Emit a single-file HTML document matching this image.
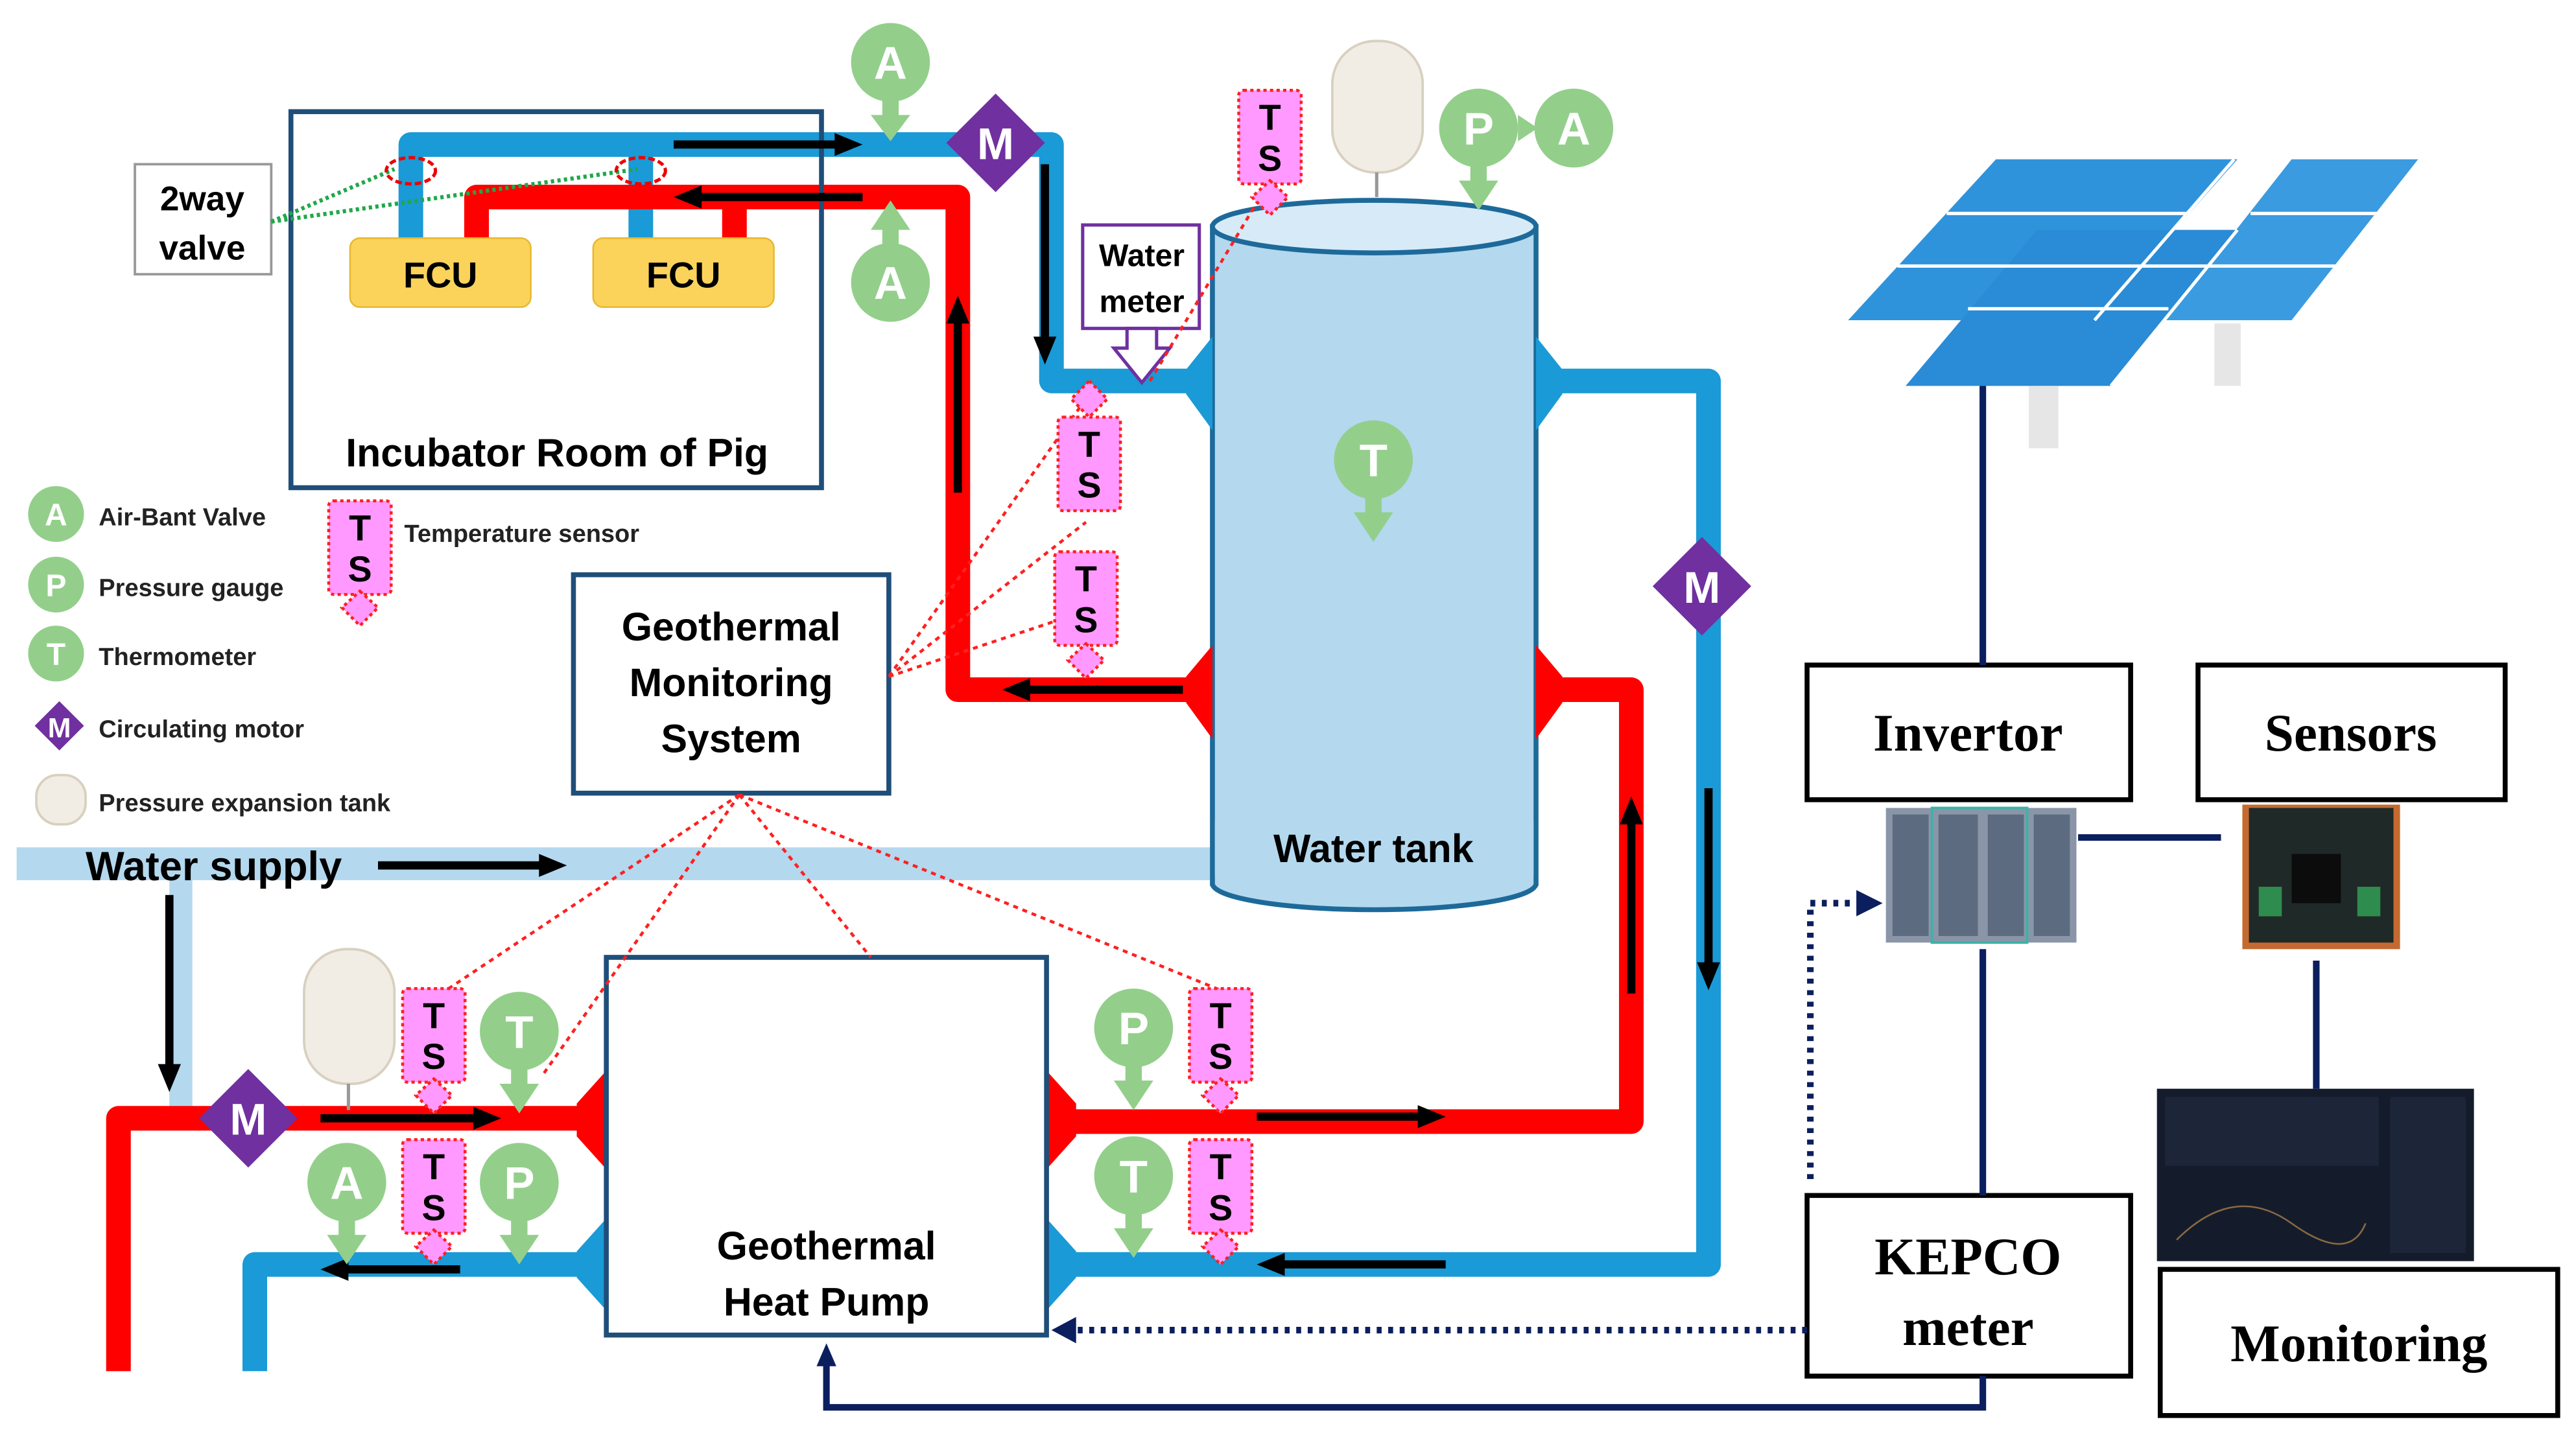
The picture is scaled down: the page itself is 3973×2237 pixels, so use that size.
<!DOCTYPE html>
<html><head><meta charset="utf-8"><style>
html,body{margin:0;padding:0;background:#fff}
svg{display:block}
.s{font-family:"Liberation Sans",sans-serif;font-weight:bold}
.r{font-family:"Liberation Serif",serif;font-weight:bold}
</style></head><body>
<svg width="3973" height="2237" viewBox="0 0 1568 883" xmlns="http://www.w3.org/2000/svg">
<rect width="1568" height="883" fill="#fff"/>
<rect x="10" y="516" width="730" height="20" fill="#b4d8ee"/>
<rect x="103" y="536" width="14" height="146" fill="#b4d8ee"/>
<rect x="738" y="138" width="197" height="400" fill="#b4d8ee" stroke="#1d6a9a" stroke-width="3"/>
<ellipse cx="836.5" cy="538" rx="98.5" ry="16" fill="#b4d8ee" stroke="#1d6a9a" stroke-width="3"/>
<rect x="739.5" y="500" width="194" height="38" fill="#b4d8ee"/>
<ellipse cx="836.5" cy="138" rx="98.5" ry="16" fill="#d6ebf7" stroke="#1d6a9a" stroke-width="3"/>
<g fill="none" stroke-linejoin="round" stroke-width="15">
<path d="M250,145 V88 H640 V232 H730" stroke="#1a9ad6"/>
<path d="M390,88 V145" stroke="#1a9ad6"/>
<path d="M290,145 V120 H583 V420 H730" stroke="#ff0000"/>
<path d="M447,120 V145" stroke="#ff0000"/>
<path d="M940,232 H1040 V770 H645" stroke="#1a9ad6"/>
<path d="M940,420 H993 V683 H645" stroke="#ff0000"/>
<path d="M362,681 H72 V835" stroke="#ff0000"/>
<path d="M362,770 H155 V835" stroke="#1a9ad6"/>
</g>
<polygon points="738,205 722,225 722,240 738,262" fill="#1a9ad6"/>
<polygon points="738,393 722,412 722,428 738,450" fill="#ff0000"/>
<polygon points="935,205 951,225 951,240 935,262" fill="#1a9ad6"/>
<polygon points="935,393 951,412 951,428 935,450" fill="#ff0000"/>
<polygon points="637,652 655,672 655,692 637,712" fill="#ff0000"/>
<polygon points="637,742 655,762 655,778 637,798" fill="#1a9ad6"/>
<polygon points="369,652 351,672 351,692 369,712" fill="#ff0000"/>
<polygon points="369,742 351,762 351,778 369,798" fill="#1a9ad6"/>
<rect x="177" y="68" width="323" height="229" fill="none" stroke="#1f4e79" stroke-width="3"/>
<rect x="213" y="145" width="110" height="42" rx="6" fill="#fbd35b" stroke="#e8b830"/>
<rect x="361" y="145" width="110" height="42" rx="6" fill="#fbd35b" stroke="#e8b830"/>
<text x="268" y="175" class="s" font-size="22" text-anchor="middle">FCU</text>
<text x="416" y="175" class="s" font-size="22" text-anchor="middle">FCU</text>
<text x="339" y="284" class="s" font-size="24" text-anchor="middle">Incubator Room of Pig</text>
<rect x="82" y="100" width="83" height="67" fill="#fff" stroke="#999" stroke-width="1.5"/>
<text x="123" y="128" class="s" font-size="21" text-anchor="middle">2way</text>
<text x="123" y="158" class="s" font-size="21" text-anchor="middle">valve</text>
<path d="M165,135 L240,103 M165,135 L388,103" stroke="#1fa84a" stroke-width="2.5" stroke-dasharray="2,2"/>
<ellipse cx="250" cy="104" rx="15" ry="8" fill="none" stroke="#e00" stroke-width="2" stroke-dasharray="4,2"/>
<ellipse cx="390" cy="104" rx="15" ry="8" fill="none" stroke="#e00" stroke-width="2" stroke-dasharray="4,2"/>
<rect x="349" y="350" width="192" height="133" fill="#fff" stroke="#1f4e79" stroke-width="3"/>
<text x="445" y="390" class="s" font-size="24" text-anchor="middle">Geothermal</text>
<text x="445" y="424" class="s" font-size="24" text-anchor="middle">Monitoring</text>
<text x="445" y="458" class="s" font-size="24" text-anchor="middle">System</text>
<rect x="369" y="583" width="268" height="230" fill="#fff" stroke="#1f4e79" stroke-width="3"/>
<text x="503" y="767" class="s" font-size="24" text-anchor="middle">Geothermal</text>
<text x="503" y="801" class="s" font-size="24" text-anchor="middle">Heat Pump</text>
<text x="836" y="525" class="s" font-size="24" text-anchor="middle">Water tank</text>
<text x="52" y="536" class="s" font-size="25">Water supply</text>
<rect x="659" y="137" width="71" height="63" fill="#fff" stroke="#7030a0" stroke-width="2"/>
<text x="695" y="162" class="s" font-size="19" text-anchor="middle">Water</text>
<text x="695" y="190" class="s" font-size="19" text-anchor="middle">meter</text>
<polygon points="686,200 704,200 704,212 712,212 695,233 678,212 686,212" fill="#fff" stroke="#7030a0" stroke-width="2"/>
<g stroke="#ff2020" stroke-width="1.8" stroke-dasharray="3,3" fill="none">
<path d="M541,412 L663,240 M541,412 L661,318 M541,412 L661,372 M700,232 L773,110"/>
<path d="M450,484 L264,608 M450,484 L330,655 M450,484 L530,583 M450,484 L743,603"/>
</g>
<g stroke="#000" stroke-width="5" fill="#000">
<path d="M410,88 H510"/><polygon points="525,88 508,81 508,95" stroke="none"/>
<path d="M525,120 H425"/><polygon points="410,120 427,113 427,127" stroke="none"/>
<path d="M636,100 V207"/><polygon points="636,222 629,205 643,205" stroke="none"/>
<path d="M583,300 V195"/><polygon points="583,180 576,197 590,197" stroke="none"/>
<path d="M720,420 H625"/><polygon points="610,420 627,413 627,427" stroke="none"/>
<path d="M993,605 V500"/><polygon points="993,485 986,502 1000,502" stroke="none"/>
<path d="M1040,480 V588"/><polygon points="1040,603 1033,586 1047,586" stroke="none"/>
<path d="M880,770 H780"/><polygon points="765,770 782,763 782,777" stroke="none"/>
<path d="M765,680 H865"/><polygon points="880,680 863,673 863,687" stroke="none"/>
<path d="M195,681 H290"/><polygon points="305,681 288,674 288,688" stroke="none"/>
<path d="M280,773 H210"/><polygon points="195,773 212,766 212,780" stroke="none"/>
<path d="M230,527 H330"/><polygon points="345,527 328,520 328,534" stroke="none"/>
<path d="M103,545 V650"/><polygon points="103,665 96,648 110,648" stroke="none"/>
</g>
<g fill="#7030a0">
<polygon points="606,57 636,87 606,117 576,87"/>
<polygon points="1036,327 1066,357 1036,387 1006,357"/>
<polygon points="151,651 181,681 151,711 121,681"/>
<polygon points="36,427 51,442 36,457 21,442"/>
</g>
<g class="s" fill="#fff" text-anchor="middle">
<text x="606" y="97" font-size="27">M</text>
<text x="1036" y="367" font-size="27">M</text>
<text x="151" y="691" font-size="27">M</text>
<text x="36" y="449" font-size="17">M</text>
</g>
<g fill="#93cf8b">
<circle cx="542" cy="38" r="24"/><rect x="537" y="58" width="10" height="14"/><polygon points="530,70 554,70 542,86"/>
<circle cx="542" cy="172" r="24"/><rect x="537" y="138" width="10" height="14"/><polygon points="530,140 554,140 542,122"/>
<circle cx="900" cy="78" r="24"/><rect x="895" y="98" width="10" height="14"/><polygon points="888,110 912,110 900,128"/>
<circle cx="958" cy="78" r="24"/><polygon points="924,70 936,78 924,86"/>
<circle cx="836" cy="280" r="24"/><rect x="831" y="300" width="10" height="14"/><polygon points="824,312 848,312 836,330"/>
<circle cx="316" cy="628" r="24"/><rect x="311" y="648" width="10" height="14"/><polygon points="304,660 328,660 316,678"/>
<circle cx="211" cy="720" r="24"/><rect x="206" y="740" width="10" height="14"/><polygon points="199,752 223,752 211,770"/>
<circle cx="316" cy="720" r="24"/><rect x="311" y="740" width="10" height="14"/><polygon points="304,752 328,752 316,770"/>
<circle cx="690" cy="626" r="24"/><rect x="685" y="646" width="10" height="14"/><polygon points="678,658 702,658 690,676"/>
<circle cx="690" cy="716" r="24"/><rect x="685" y="736" width="10" height="14"/><polygon points="678,748 702,748 690,766"/>
<circle cx="34" cy="313" r="17"/><circle cx="34" cy="356" r="17"/><circle cx="34" cy="398" r="17"/>
</g>
<g class="s" fill="#fff" text-anchor="middle" font-size="28">
<text x="542" y="48">A</text><text x="542" y="182">A</text>
<text x="900" y="88">P</text><text x="958" y="88">A</text>
<text x="836" y="290">T</text><text x="316" y="638">T</text>
<text x="211" y="730">A</text><text x="316" y="730">P</text>
<text x="690" y="636">P</text><text x="690" y="726">T</text>
<text x="34" y="320" font-size="19">A</text><text x="34" y="363" font-size="19">P</text><text x="34" y="405" font-size="19">T</text>
</g>
<g fill="#ff99ff" stroke="#ff2020" stroke-width="1.8" stroke-dasharray="2,2">
<rect x="754" y="55" width="38" height="57" rx="3"/><polygon points="773,110 784,120 773,131 762,120"/>
<rect x="644" y="254" width="38" height="57" rx="3"/><polygon points="663,232 674,243 663,254 652,243"/>
<rect x="642" y="336" width="38" height="57" rx="3"/><polygon points="661,392 672,402 661,413 650,402"/>
<rect x="200" y="305" width="38" height="57" rx="3"/><polygon points="219,360 230,370 219,381 208,370"/>
<rect x="245" y="602" width="38" height="57" rx="3"/><polygon points="264,657 275,667 264,678 253,667"/>
<rect x="245" y="694" width="38" height="57" rx="3"/><polygon points="264,749 275,759 264,770 253,759"/>
<rect x="724" y="602" width="38" height="57" rx="3"/><polygon points="743,657 754,667 743,678 732,667"/>
<rect x="724" y="694" width="38" height="57" rx="3"/><polygon points="743,749 754,759 743,770 732,759"/>
</g>
<g class="s" fill="#000" text-anchor="middle" font-size="22">
<text x="773" y="79">T</text><text x="773" y="104">S</text>
<text x="663" y="278">T</text><text x="663" y="303">S</text>
<text x="661" y="360">T</text><text x="661" y="385">S</text>
<text x="219" y="329">T</text><text x="219" y="354">S</text>
<text x="264" y="626">T</text><text x="264" y="651">S</text>
<text x="264" y="718">T</text><text x="264" y="743">S</text>
<text x="743" y="626">T</text><text x="743" y="651">S</text>
<text x="743" y="718">T</text><text x="743" y="743">S</text>
</g>
<g fill="#f2ede4" stroke="#d8d0c0" stroke-width="1.5">
<rect x="811" y="25" width="55" height="80" rx="26"/>
<rect x="185" y="578" width="55" height="82" rx="26"/>
<rect x="22" y="472" width="30" height="30" rx="13"/>
</g>
<path d="M838,105 V120 M212,660 V676" stroke="#999" stroke-width="2"/>
<g class="s" font-size="15" fill="#222">
<text x="60" y="320">Air-Bant Valve</text>
<text x="60" y="363">Pressure gauge</text>
<text x="60" y="405">Thermometer</text>
<text x="60" y="449">Circulating motor</text>
<text x="60" y="494">Pressure expansion tank</text>
<text x="246" y="330">Temperature sensor</text>
</g>
<polygon points="1318,195 1395,97 1472,97 1395,195" fill="#3a9be0"/>
<polygon points="1125,195 1215,97 1362,97 1275,195" fill="#2f93dc"/>
<polygon points="1160,235 1240,140 1362,140 1285,235" fill="#2a8bd6"/>
<g stroke="#fff" stroke-width="2" fill="none">
<path d="M1155,162 H1305 M1185,130 H1335 M1198,188 H1320 M1220,162 H1345 M1345,162 H1425 M1370,130 H1450"/>
<path d="M1360,97 L1275,195 M1362,140 L1285,235 M1400,195 L1475,97"/>
</g>
<rect x="1235" y="235" width="18" height="38" fill="#e6e6e6"/>
<rect x="1348" y="197" width="16" height="38" fill="#e6e6e6"/>
<g fill="#fff" stroke="#000" stroke-width="3">
<rect x="1100" y="405" width="197" height="82"/>
<rect x="1338" y="405" width="187" height="82"/>
<rect x="1100" y="728" width="197" height="110"/>
<rect x="1315" y="773" width="242" height="89"/>
</g>
<g class="r" font-size="32" text-anchor="middle" fill="#000">
<text x="1198" y="457">Invertor</text>
<text x="1431" y="457">Sensors</text>
<text x="1198" y="776">KEPCO</text>
<text x="1198" y="819">meter</text>
<text x="1436" y="829">Monitoring</text>
</g>
<rect x="1148" y="492" width="116" height="82" fill="#8a96a8"/>
<g fill="#5d6b80"><rect x="1152" y="496" width="22" height="74"/><rect x="1180" y="496" width="24" height="74"/><rect x="1210" y="496" width="22" height="74"/><rect x="1238" y="496" width="22" height="74"/></g>
<rect x="1176" y="492" width="58" height="82" fill="none" stroke="#3bb3a8" stroke-width="1.5"/>
<rect x="1365" y="490" width="96" height="88" fill="#c46a30"/>
<rect x="1369" y="492" width="88" height="82" fill="#1f2a28"/>
<rect x="1395" y="520" width="30" height="30" fill="#0c0c0c"/>
<rect x="1375" y="540" width="14" height="18" fill="#2e8c4e"/><rect x="1435" y="540" width="14" height="18" fill="#2e8c4e"/>
<rect x="1313" y="663" width="193" height="105" fill="#141c2c"/>
<rect x="1318" y="668" width="130" height="42" fill="#1c2638"/>
<rect x="1455" y="668" width="46" height="95" fill="#1c2638"/>
<path d="M1325,755 Q1360,720 1395,745 T1440,745" stroke="#8a6a40" fill="none"/>
<g stroke="#0b1f5e" stroke-width="4" fill="none">
<path d="M1207,235 V405 M1207,578 V728 M1265,510 H1352 M1410,585 V663"/>
<path d="M1207,838 V857 H503 V830"/>
</g>
<polygon points="503,818 497,832 509,832" fill="#0b1f5e"/>
<g stroke="#0b1f5e" stroke-width="4" stroke-dasharray="3,4" fill="none">
<path d="M1100,810 H655"/>
<path d="M1102,718 V550 H1130"/>
</g>
<polygon points="640,810 655,802 655,818" fill="#0b1f5e"/>
<polygon points="1146,550 1130,542 1130,558" fill="#0b1f5e"/>
</svg>
</body></html>
